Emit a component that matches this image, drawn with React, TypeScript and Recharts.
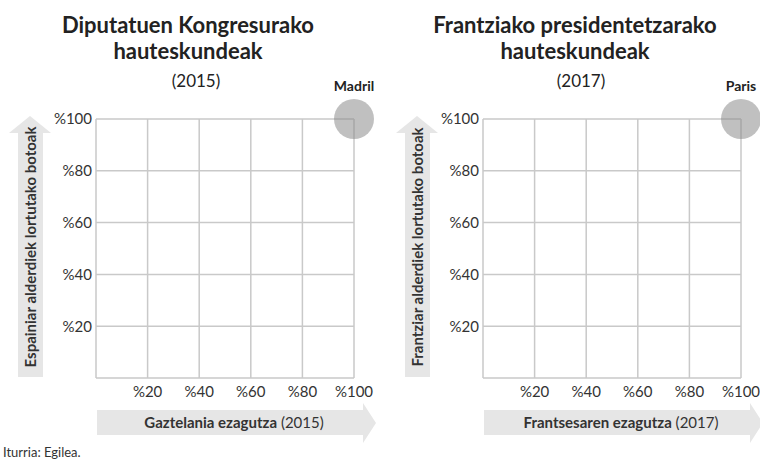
import { CartesianGrid, Scatter, ScatterChart, XAxis, YAxis, LabelList } from 'recharts'

const TICKS = [0, 20, 40, 60, 80, 100]

const madrilPoints = [{ x: 100, y: 100, name: 'Madril' }]
const parisPoints = [{ x: 100, y: 100, name: 'Paris' }]

const PANELS = [
  {
    left: 0,
    title: ['Diputatuen Kongresurako', 'hauteskundeak'],
    year: '(2015)',
    titleX: 188,
    yearX: 196,
    yLabel: 'Espainiar alderdiek lortutako botoak',
    xBold: 'Gaztelania ezagutza',
    xYear: ' (2015)',
    points: madrilPoints,
  },
  {
    left: 387,
    title: ['Frantziako presidentetzarako', 'hauteskundeak'],
    year: '(2017)',
    titleX: 188,
    yearX: 194,
    yLabel: 'Frantziar alderdiek lortutako botoak',
    xBold: 'Frantsesaren ezagutza',
    xYear: ' (2017)',
    points: parisPoints,
  },
]

const FONT = 'Lato, "Open Sans", sans-serif'
const W = 380
const H = 462

const fmt = (v: number) => (v === 0 ? '' : `%${v}`)

function Panel({ p }: { p: (typeof PANELS)[number] }) {
  return (
    <div style={{ position: 'absolute', left: p.left, top: 0, width: W, height: H }}>
      <svg width={W} height={H} style={{ position: 'absolute', left: 0, top: 0 }} fontFamily={FONT}>
        <text x={p.titleX} y={33} textAnchor="middle" fontSize={22} fontWeight={700} fill="#222">
          {p.title[0]}
        </text>
        <text x={p.titleX} y={59} textAnchor="middle" fontSize={22} fontWeight={700} fill="#222">
          {p.title[1]}
        </text>
        <text x={p.yearX} y={87} textAnchor="middle" fontSize={17} fill="#222">
          {p.year}
        </text>
        {/* vertical arrow */}
        <polygon points="18,377 18,133 9,133 30,116 51,133 43,133 43,377" fill="#e6e6e6" />
        <text
          x={0}
          y={0}
          transform="translate(36,247) rotate(-90)"
          textAnchor="middle"
          fontSize={15}
          fontWeight={700}
          fill="#333"
        >
          {p.yLabel}
        </text>
        {/* horizontal arrow */}
        <polygon points="97,410 363,410 363,403 376,423 363,443 363,435 97,435" fill="#e6e6e6" />
        <text x={234} y={428} textAnchor="middle" fontSize={15} fill="#333">
          <tspan fontWeight={700}>{p.xBold}</tspan>
          <tspan>{p.xYear}</tspan>
        </text>
      </svg>
      <div style={{ position: 'absolute', left: 0, top: 0 }}>
        <ScatterChart width={W} height={H} margin={{ top: 119, right: 26, bottom: 54, left: 46 }}>
          <CartesianGrid stroke="#c9c9c9" strokeWidth={1.5} />
          <XAxis
            type="number"
            dataKey="x"
            domain={[0, 100]}
            ticks={TICKS}
            tickFormatter={fmt}
            axisLine={false}
            tickLine={false}
            tickSize={0}
            tickMargin={8}
            height={30}
            interval={0}
            tick={{ fill: '#333', fontSize: 15, fontFamily: FONT }}
          />
          <YAxis
            type="number"
            dataKey="y"
            domain={[0, 100]}
            ticks={TICKS}
            tickFormatter={fmt}
            axisLine={false}
            tickLine={false}
            tickSize={0}
            tickMargin={4}
            width={50}
            interval={0}
            tick={{ fill: '#333', fontSize: 15, fontFamily: FONT }}
          />
          <Scatter
            data={p.points}
            isAnimationActive={false}
            shape={(props: any) => (
              <circle cx={props.cx} cy={props.cy} r={20} fill="#8c8c8c" fillOpacity={0.55} />
            )}
          >
            <LabelList
              dataKey="name"
              content={(props: any) => (
                <text
                  x={props.x + (props.width ?? 0) / 2}
                  y={props.y - 23}
                  textAnchor="middle"
                  fontSize={14}
                  fontWeight={700}
                  fill="#222"
                  fontFamily={FONT}
                >
                  {props.value}
                </text>
              )}
            />
          </Scatter>
        </ScatterChart>
      </div>
    </div>
  )
}

export default function App() {
  return (
    <div
      style={{
        position: 'fixed',
        left: 0,
        top: 0,
        width: 760,
        height: 462,
        overflow: 'hidden',
        background: '#fff',
      }}
    >
      {PANELS.map((p) => (
        <Panel key={p.year} p={p} />
      ))}
      <svg width={200} height={30} style={{ position: 'absolute', left: 0, top: 440 }}>
        <text x={3} y={17} fontSize={13} fill="#333" fontFamily={FONT}>
          Iturria: Egilea.
        </text>
      </svg>
    </div>
  )
}
